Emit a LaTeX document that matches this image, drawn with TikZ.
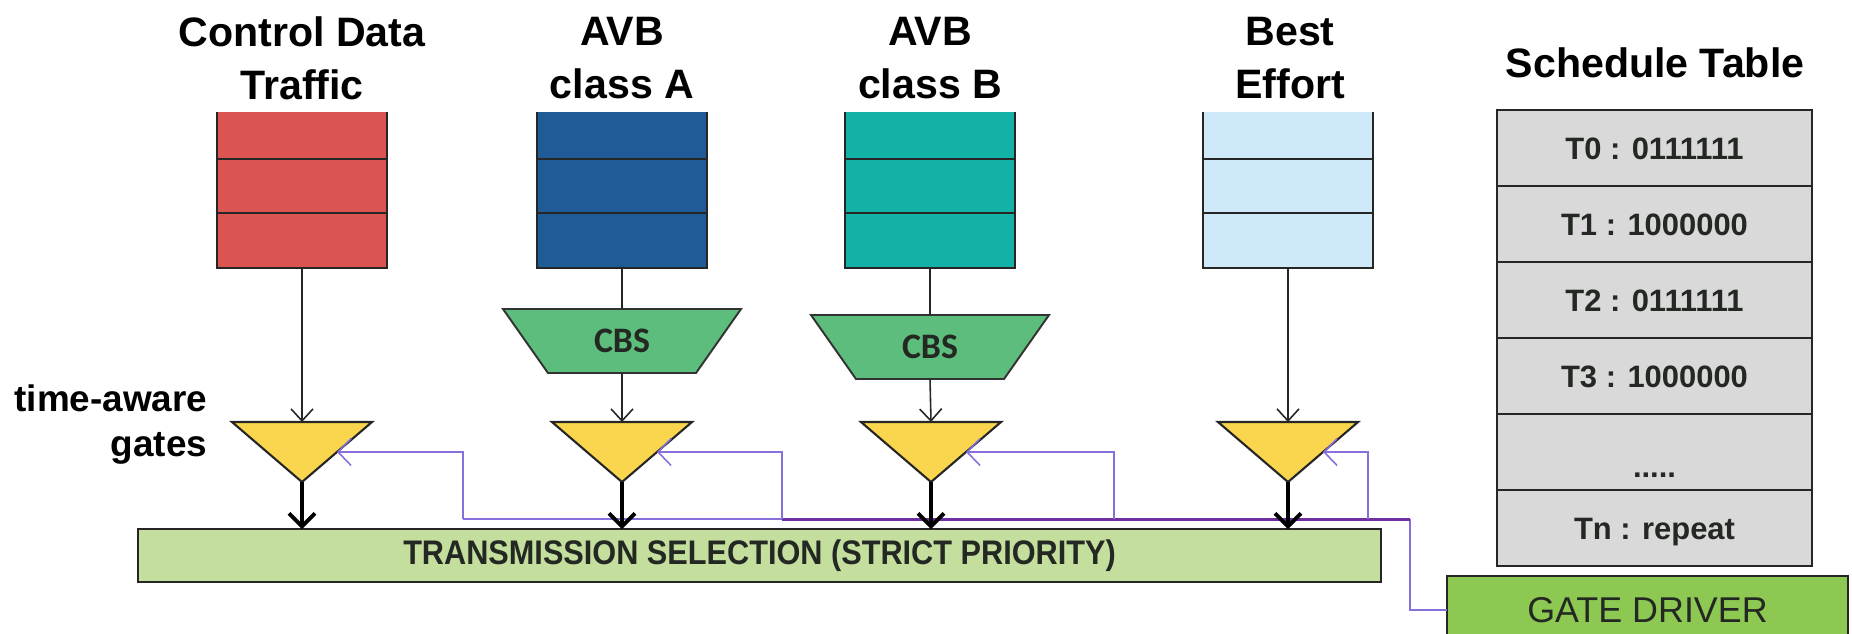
\documentclass[tikz,border=0pt]{standalone}
\usepackage{fontspec}
\setmainfont{Liberation Sans}
\newfontfamily\cbsfont{Carlito}
\usepackage{tikz}
\usetikzlibrary{arrows.meta,calc,positioning}
\definecolor{Ctrl_queue}{RGB}{219, 84, 82}
\definecolor{AVBA_queue}{RGB}{31, 91, 150}
\definecolor{AVBB_queue}{RGB}{20, 178, 166}
\definecolor{BE_queue}{RGB}{206, 233, 248}
\definecolor{CBS_green}{RGB}{92, 189, 124}
\definecolor{Gate_yellow}{RGB}{249, 214, 78}
\definecolor{TS_green}{RGB}{196, 222, 158}
\definecolor{Driver_green}{RGB}{141, 200, 82}
\definecolor{Table_gray}{RGB}{217, 217, 217}
\definecolor{Bus_purple}{RGB}{112, 48, 160}
\definecolor{Wire_purple}{RGB}{136, 112, 220}
\definecolor{Text_dark}{RGB}{35, 40, 35}
\tikzset{
    title/.style={align=center, inner sep=0pt, font=\fontsize{11.7}{15}\selectfont\bfseries},
    queue/.style={minimum width=17mm, minimum height=15.6mm, inner sep=0pt, outer sep=0pt},
    qline/.style={draw=black!85, line width=0.5pt},
    gatebox/.style={minimum width=14mm, minimum height=6mm, inner sep=0pt, outer sep=0pt},
    gate/.style={draw=black!85, line width=0.6pt, fill=Gate_yellow},
    cbsbox/.style={minimum width=14.8mm, minimum height=6.4mm, inner sep=0pt, outer sep=0pt},
    cbs/.style={draw=black!80, line width=0.55pt, fill=CBS_green},
    cbs text/.style={inner sep=0pt, text=Text_dark, font=\fontsize{10.2}{12}\cbsfont\bfseries},
    flow/.style={black!85, line width=0.45pt, -{Straight Barb[length=1.2mm, width=2.2mm]}},
    out arrow/.style={black, line width=1.1pt, -{Straight Barb[length=1.3mm, width=2.6mm]}},
    wire/.style={Wire_purple, line width=0.45pt},
    wire arrow/.style={wire, -{Straight Barb[length=1.3mm, width=2.7mm]}},
    bus/.style={Bus_purple, line width=0.85pt},
    cell/.style={draw=black!85, line width=0.6pt, fill=Table_gray, minimum width=31.5mm,
        minimum height=7.6mm, inner sep=0pt, outer sep=0pt, text height=2.3mm, text depth=0pt,
        text=Text_dark, font=\fontsize{8.8}{10}\selectfont\bfseries}
}

\begin{document}
\begin{tikzpicture}[x=0.1mm, y=-0.1mm]
    \useasboundingbox (0,0) rectangle (1852,633);
    \clip (0,0) rectangle (1852,633);

    %% Titles
    \node[title] (ctrltitle) at (302,58) {Control Data\\Traffic};
    \node[title] (avbatitle) at (622,58) {AVB\\class A};
    \node[title] (avbbtitle) at (930,58) {AVB\\class B};
    \node[title] (betitle) at (1290,58) {Best\\Effort};
    \node[title, anchor=base] (tabletitle) at (1655,77) {Schedule Table};
    \node[title, align=right, anchor=east, font=\fontsize{10.5}{12.8}\selectfont\bfseries]
        (gatelabel) at (208,425) {time-aware\\gates};

    %% Queues
    \node[queue, fill=Ctrl_queue] (ctrl) at (302,190) {};
    \draw[qline] (ctrl.north west) |- (ctrl.south east) -- (ctrl.north east);
    \draw[qline]
    ($(ctrl.north west)!0.3!(ctrl.south west)$) -- ($(ctrl.north east)!0.3!(ctrl.south east)$)
    ($(ctrl.north west)!0.645!(ctrl.south west)$) -- ($(ctrl.north east)!0.645!(ctrl.south east)$)
    ;
    \node[queue, fill=AVBA_queue] (avba) at (622,190) {};
    \draw[qline] (avba.north west) |- (avba.south east) -- (avba.north east);
    \draw[qline]
    ($(avba.north west)!0.3!(avba.south west)$) -- ($(avba.north east)!0.3!(avba.south east)$)
    ($(avba.north west)!0.645!(avba.south west)$) -- ($(avba.north east)!0.645!(avba.south east)$)
    ;
    \node[queue, fill=AVBB_queue] (avbb) at (930,190) {};
    \draw[qline] (avbb.north west) |- (avbb.south east) -- (avbb.north east);
    \draw[qline]
    ($(avbb.north west)!0.3!(avbb.south west)$) -- ($(avbb.north east)!0.3!(avbb.south east)$)
    ($(avbb.north west)!0.645!(avbb.south west)$) -- ($(avbb.north east)!0.645!(avbb.south east)$)
    ;
    \node[queue, fill=BE_queue] (best) at (1288,190) {};
    \draw[qline] (best.north west) |- (best.south east) -- (best.north east);
    \draw[qline]
    ($(best.north west)!0.3!(best.south west)$) -- ($(best.north east)!0.3!(best.south east)$)
    ($(best.north west)!0.645!(best.south west)$) -- ($(best.north east)!0.645!(best.south east)$)
    ;

    %% Credit based shapers
    \node[cbsbox] (cbsa) at (622,341) {};
    \draw[cbs] ([xshift=-4.5mm]cbsa.north west) -- ([xshift=4.5mm]cbsa.north east)
        -- (cbsa.south east) -- (cbsa.south west) -- cycle;
    \node[cbs text] (cbsalbl) at (cbsa) {CBS};
    \node[cbsbox] (cbsb) at (930,347) {};
    \draw[cbs] ([xshift=-4.5mm]cbsb.north west) -- ([xshift=4.5mm]cbsb.north east)
        -- (cbsb.south east) -- (cbsb.south west) -- cycle;
    \node[cbs text] (cbsblbl) at (cbsb) {CBS};

    %% Gates
    \node[gatebox] (gate1) at (302,452) {};
    \draw[gate] (gate1.north west) -- (gate1.north east) -- (gate1.south) -- cycle;
    \node[gatebox] (gate2) at (622,452) {};
    \draw[gate] (gate2.north west) -- (gate2.north east) -- (gate2.south) -- cycle;
    \node[gatebox] (gate3) at (931,452) {};
    \draw[gate] (gate3.north west) -- (gate3.north east) -- (gate3.south) -- cycle;
    \node[gatebox] (gate4) at (1288,452) {};
    \draw[gate] (gate4.north west) -- (gate4.north east) -- (gate4.south) -- cycle;
    \coordinate (gate1in) at ($(gate1.north east)!0.5!(gate1.south)$);
    \coordinate (gate2in) at ($(gate2.north east)!0.5!(gate2.south)$);
    \coordinate (gate3in) at ($(gate3.north east)!0.5!(gate3.south)$);
    \coordinate (gate4in) at ($(gate4.north east)!0.5!(gate4.south)$);

    %% Transmission selection
    \node[draw=black!85, line width=0.6pt, fill=TS_green, minimum width=124.3mm,
        minimum height=5.3mm, inner sep=0pt, outer sep=0pt, text=Text_dark,
        font=\fontsize{9.7}{11}\selectfont\bfseries]
        (ts) at (759.5,555.5) {\scalebox{0.9}[1]{TRANSMISSION SELECTION (STRICT PRIORITY)}};

    %% Schedule table
    \node[cell] (t0) at (1654.5,148) {T0 : 0111111};
    \node[cell, below=0pt of t0] (t1) {T1 : 1000000};
    \node[cell, below=0pt of t1] (t2) {T2 : 0111111};
    \node[cell, below=0pt of t2] (t3) {T3 : 1000000};
    \node[cell, below=0pt of t3] (tdots) {\raisebox{-1.4mm}{.....}};
    \node[cell, below=0pt of tdots] (tn) {Tn : repeat};

    %% Gate driver
    \node[draw=black!85, line width=0.6pt, fill=Driver_green, minimum width=40.1mm,
        minimum height=6.8mm, inner sep=0pt, outer sep=0pt, text=Text_dark,
        font=\fontsize{10.2}{12}\selectfont] (driver) at (1647.5,610) {GATE DRIVER};

    %% Gate control wires
    \coordinate (tap1) at (463,519);
    \coordinate (tap2) at (782,519);
    \coordinate (tap3) at (1114,519);
    \coordinate (tap4) at (1368,519);
    \coordinate (busend) at (1410,519);
    \draw[wire] (driver.west) -| (busend);
    \draw[bus] (busend) -- (tap2);
    \draw[wire] (tap2) -- (tap1);
    \draw[wire arrow] (tap1) |- (gate1in);
    \draw[wire arrow] (tap2) |- (gate2in);
    \draw[wire arrow] (tap3) |- (gate3in);
    \draw[wire arrow] (tap4) |- (gate4in);

    %% Queue flows
    \draw[flow] (ctrl.south) -- (gate1.north);
    \draw[qline] (avba.south) -- (cbsa.north);
    \draw[flow] (cbsa.south) -- (gate2.north);
    \draw[qline] (avbb.south) -- (cbsb.north);
    \draw[flow] (cbsb.south) -- (gate3.north);
    \draw[flow] (best.south) -- (gate4.north);

    %% Gate outputs
    \draw[out arrow] (gate1.south) -- (gate1.south |- ts.north);
    \draw[out arrow] (gate2.south) -- (gate2.south |- ts.north);
    \draw[out arrow] (gate3.south) -- (gate3.south |- ts.north);
    \draw[out arrow] (gate4.south) -- (gate4.south |- ts.north);

\end{tikzpicture}
\end{document}
